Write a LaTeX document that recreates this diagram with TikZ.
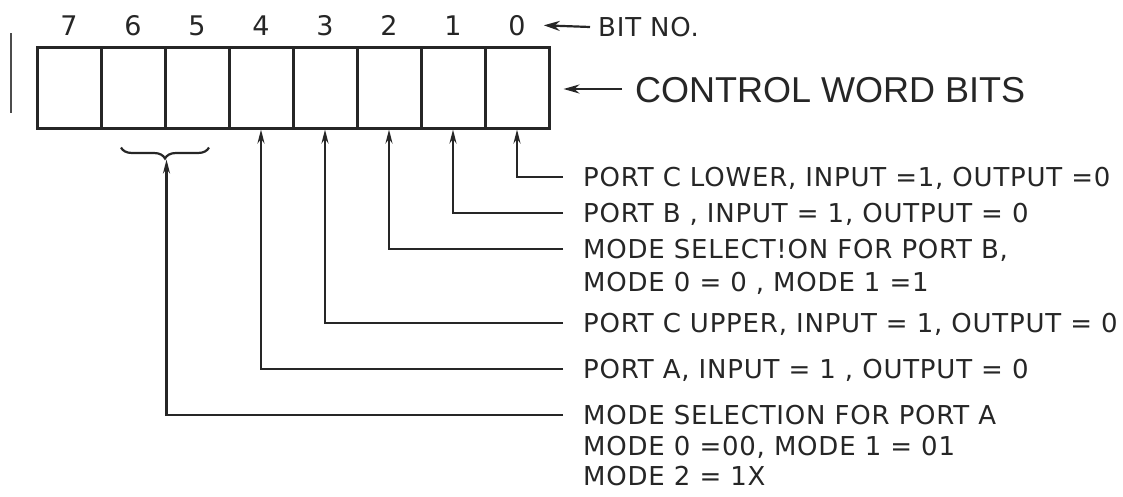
\documentclass[tikz,border=0pt]{standalone}
\usepackage{fontspec}
\newfontfamily\lblfont{DejaVu Sans}[LetterSpace=3]
\newfontfamily\headfont{Liberation Sans}
\usetikzlibrary{arrows.meta, positioning, decorations.pathreplacing}

\begin{document}
\begin{tikzpicture}[x=1pt, y=-1pt,
    bitcell/.style={rectangle, draw=black!85, line width=3pt, minimum width=64pt, minimum height=81pt, inner sep=0pt},
    bitnum/.style={inner sep=0pt, text height=20pt, text depth=0pt, text=black!85, font=\lblfont\fontsize{27}{27}\selectfont},
    portlabel/.style={anchor=west, inner sep=0pt, text height=19pt, text depth=0pt, text=black!85, font=\lblfont\fontsize{26}{26}\selectfont},
    arrow/.style={draw=black!85, -{Stealth[length=14pt, width=7pt]}, line width=2.2pt}
]
\useasboundingbox (0,0) rectangle (1123,496);

% register cells, bit 7 on the left
\foreach \bit in {7,...,0} {
  \node[bitcell] (c\bit) at ({517-64*\bit},87.5) {};
  \node[bitnum, above=10pt of c\bit] (n\bit) {\bit};
}

% mark at the left edge
\draw[black!70, line width=1.8pt] (11,33) -- (11,113);

% headings
\node[portlabel] (bitno) at (598,27) {BIT NO.};
\node[portlabel, text height=26pt, font=\headfont\fontsize{36}{36}\selectfont] (cwb) at (635,89) {CONTROL WORD BITS};

\draw[arrow, -{Stealth[length=16pt, width=10pt]}] ([xshift=-8pt]bitno.west) -- ([xshift=18pt]n0.east);
\draw[arrow, -{Stealth[length=16pt, width=9pt]}] ([xshift=-13pt]cwb.west) -- ([xshift=13pt]c0.east |- cwb.west);

% field descriptions
\node[portlabel] (d0) at (583,177) {PORT C LOWER, INPUT =1, OUTPUT =0};
\node[portlabel] (d1) at (583,213) {PORT B , INPUT = 1, OUTPUT = 0};
\node[portlabel] (d2) at (583,249) {MODE SELECT!ON FOR PORT B,};
\node[portlabel] (d2b) at ([yshift=-33pt]d2.west) {MODE 0 = 0 , MODE 1 =1};
\node[portlabel] (d3) at (583,323) {PORT C UPPER, INPUT = 1, OUTPUT = 0};
\node[portlabel] (d4) at (583,369) {PORT A, INPUT = 1 , OUTPUT = 0};
\node[portlabel] (d5) at (583,415) {MODE SELECTION FOR PORT A};
\node[portlabel] (d5b) at ([yshift=-31pt]d5.west) {MODE 0 =00, MODE 1 = 01};
\node[portlabel] (d5c) at ([yshift=-61pt]d5.west) {MODE 2 = 1X};

% brace over bits 6 and 5
\coordinate (brL) at ([xshift=-12pt, yshift=-18pt]c6.south);
\coordinate (brR) at ([xshift=12pt, yshift=-18pt]c5.south);
\draw[black!85, line width=2.2pt, decorate, decoration={brace, mirror, amplitude=11pt}] (brL) -- (brR);
\coordinate (brtip) at ([yshift=-12pt]brL -| c6.east);

% connectors
\draw[arrow] ([xshift=-20pt]d0.west) -| (c0.south);
\draw[arrow] ([xshift=-20pt]d1.west) -| (c1.south);
\draw[arrow] ([xshift=-20pt]d2.west) -| (c2.south);
\draw[arrow] ([xshift=-20pt]d3.west) -| (c3.south);
\draw[arrow] ([xshift=-20pt]d4.west) -| (c4.south);
\draw[arrow] ([xshift=-20pt]d5.west) -| (brtip);

\end{tikzpicture}
\end{document}
